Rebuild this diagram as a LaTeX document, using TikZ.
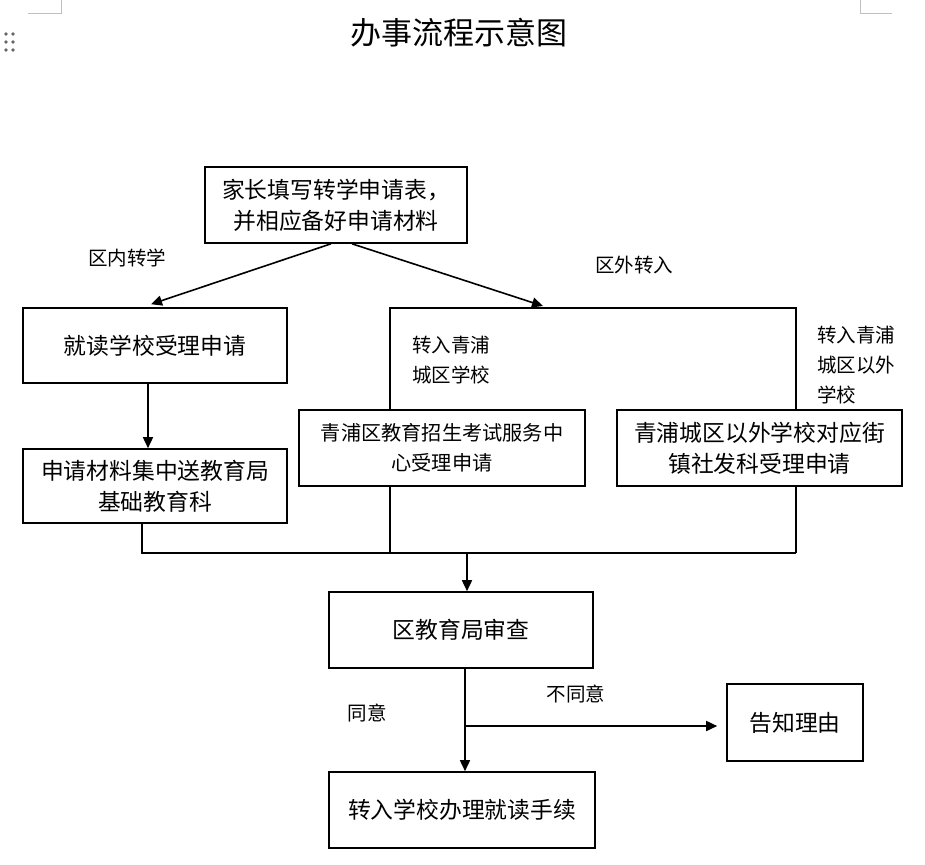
\documentclass[tikz,border=0pt]{standalone}
\usepackage{fontspec}
\setmainfont{Noto Sans CJK SC}
\usetikzlibrary{arrows.meta}
\tikzset{
  box/.style={draw=black, line width=1.6pt, rectangle, inner sep=0pt, align=center,
    font=\fontsize{22.8}{31}\selectfont},
  lbl/.style={inner sep=0pt, align=left, font=\fontsize{19.5}{30}\selectfont},
  ln/.style={draw=black, line width=1.6pt},
  arr/.style={ln, -{Triangle[length=11pt,width=10pt]}},
  pgmark/.style={draw=black!25, line width=1pt},
  pgdot/.style={fill=black!60, draw=none}
}
\begin{document}
\begin{tikzpicture}[x=1pt,y=-1pt]
\useasboundingbox (0,0) rectangle (925,864);
% page artifacts
\draw[pgmark] (28,14) -- (61,14) -- (61,0);
\draw[pgmark] (892,14) -- (860,14) -- (860,0);
\foreach \yy in {34,42,50} { \fill[pgdot] (6,\yy) circle (1.9); \fill[pgdot] (13,\yy) circle (1.9); }
% title
\node[inner sep=0pt, font=\fontsize{31}{36}\selectfont] (title) at (459,33) {办事流程示意图};
% boxes
\node[box, minimum width=262pt, minimum height=76pt] (top) at (336,205) {家长填写转学申请表，\\并相应备好申请材料};
\node[box, minimum width=264pt, minimum height=75pt] (b1) at (155,345.5) {就读学校受理申请};
\node[box, minimum width=264pt, minimum height=74pt] (b2) at (155,486) {申请材料集中送教育局\\基础教育科};
\node[box, minimum width=286pt, minimum height=76pt, font=\fontsize{20.2}{30}\selectfont] (mid) at (442,448) {青浦区教育招生考试服务中\\心受理申请};
\node[box, minimum width=285pt, minimum height=76pt, font=\fontsize{22.8}{31}\selectfont] (rgt) at (759.5,448) {青浦城区以外学校对应街\\镇社发科受理申请};
\node[box, minimum width=264pt, minimum height=76pt] (rev) at (461,630) {区教育局审查};
\node[box, minimum width=136pt, minimum height=77pt] (tell) at (795,722.5) {告知理由};
\node[box, minimum width=266pt, minimum height=76pt] (fin) at (462,810) {转入学校办理就读手续};
% labels
\node[lbl] (l1) at (127,258) {区内转学};
\node[lbl] (l2) at (634,265) {区外转入};
\node[lbl] (l3) at (451,360) {转入青浦\\城区学校};
\node[lbl] (l4) at (856,365) {转入青浦\\城区以外\\学校};
\node[lbl] (l5) at (367,713) {同意};
\node[lbl] (l6) at (576,694) {不同意};
% helper coordinates
\coordinate (bl) at (390,308);
\coordinate (br) at (796,308);
\coordinate (btip) at (543,306);
\coordinate (ml) at (142,553);
\coordinate (mc) at (467,553);
\coordinate (mr) at (796,553);
\coordinate (sp) at (466,726);
% connectors
\draw[arr] ([xshift=-5pt]top.south) -- ([xshift=-4pt,yshift=3pt]b1.north);
\draw[arr] ([xshift=16pt]top.south) -- (btip);
\draw[ln] (mid.north -| bl) -- (bl) -- (br) -- (rgt.north -| br);
\draw[arr] ([xshift=-7pt]b1.south) -- ([xshift=-7pt]b2.north);
\draw[ln] (b2.south -| ml) -- (ml) -- (mr);
\draw[ln] (mid.south -| bl) -- (bl |- ml);
\draw[ln] (rgt.south -| br) -- (mr);
\draw[arr] (mc) -- (rev.north -| mc);
\draw[arr] ([xshift=4pt]rev.south) -- ([xshift=3pt]fin.north);
\draw[arr] (sp) -- ([xshift=-9pt]tell.west |- sp);
\end{tikzpicture}
\end{document}
